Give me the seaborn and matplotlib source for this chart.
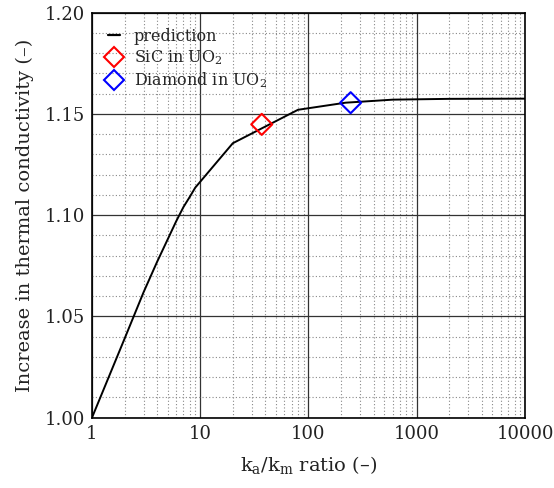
import matplotlib
matplotlib.use("Agg")
import matplotlib.pyplot as plt
import matplotlib.ticker as mticker
from matplotlib.lines import Line2D
import seaborn as sns
import pandas as pd

# prediction curve
ratio = [1, 2, 3, 4, 5, 6, 7, 8, 9, 20, 80, 220, 600, 2000, 10000]
increase = [1.000, 1.039, 1.062, 1.077, 1.088, 1.097, 1.104, 1.109, 1.1136,
            1.1355, 1.152, 1.1555, 1.1570, 1.1574, 1.1575]

# measured points
mat_labels = ["SiC in UO$_2$", "Diamond in UO$_2$"]
mat_ratio = [37, 245]
mat_increase = [1.1448, 1.1555]
mat_colors = ["#ff0000", "#0000ff"]

sns.set_theme(style="white")
plt.rcParams["font.family"] = ["DejaVu Serif"]
plt.rcParams["mathtext.fontset"] = "dejavuserif"

fig = plt.figure(figsize=(5.54, 4.88), dpi=100)
ax = fig.add_axes([0.166, 0.144, 0.7817, 0.8303])

curve = pd.DataFrame({"ratio": ratio, "increase": increase})
sns.lineplot(data=curve, x="ratio", y="increase", color="black", lw=1.4, ax=ax,
             estimator=None, sort=False)
pts = pd.DataFrame({"ratio": mat_ratio, "increase": mat_increase, "mat": mat_labels})
for lab, col in zip(mat_labels, mat_colors):
    sub = pts[pts["mat"] == lab]
    sns.scatterplot(data=sub, x="ratio", y="increase", marker="D", s=115,
                    facecolor="none", edgecolor=col, linewidth=1.5, ax=ax, zorder=5)

ax.set_xscale("log")
ax.set_xlim(1, 10000)
ax.set_ylim(1.0, 1.2)
ax.xaxis.set_major_locator(mticker.FixedLocator([1, 10, 100, 1000, 10000]))
ax.xaxis.set_major_formatter(mticker.FixedFormatter(["1", "10", "100", "1000", "10000"]))
ax.xaxis.set_minor_locator(mticker.LogLocator(base=10, subs=range(2, 10)))
ax.xaxis.set_minor_formatter(mticker.NullFormatter())
ax.yaxis.set_major_locator(mticker.MultipleLocator(0.05))
ax.yaxis.set_minor_locator(mticker.MultipleLocator(0.01))
ax.yaxis.set_major_formatter(mticker.FormatStrFormatter("%.2f"))

ax.grid(which="major", color="#333333", lw=0.9, ls="-")
ax.grid(which="minor", color="#888888", lw=0.8, ls=(0, (1, 2)))
ax.set_axisbelow(True)
ax.tick_params(which="both", length=0, labelsize=13, pad=5, colors="#222222")
for s in ax.spines.values():
    s.set_color("black")
    s.set_linewidth(1.2)

ax.set_xlabel(r"$\mathregular{k_a/k_m}$ ratio (–)", fontsize=14, color="#222222", labelpad=8)
ax.set_ylabel("Increase in thermal conductivity (–)", fontsize=14, color="#222222", labelpad=8)

handles = [Line2D([], [], color="black", lw=1.6)]
for col in mat_colors:
    handles.append(Line2D([], [], ls="none", marker="D", markersize=10,
                          markerfacecolor="none", markeredgecolor=col, markeredgewidth=1.5))
leg = ax.legend(handles, ["prediction"] + mat_labels, loc="upper left",
                frameon=False, fontsize=11.5, handlelength=0.75, handletextpad=0.85,
                labelspacing=0.22, borderaxespad=0.3, bbox_to_anchor=(0.012, 0.99))

fig.savefig("out.png", dpi=100)
